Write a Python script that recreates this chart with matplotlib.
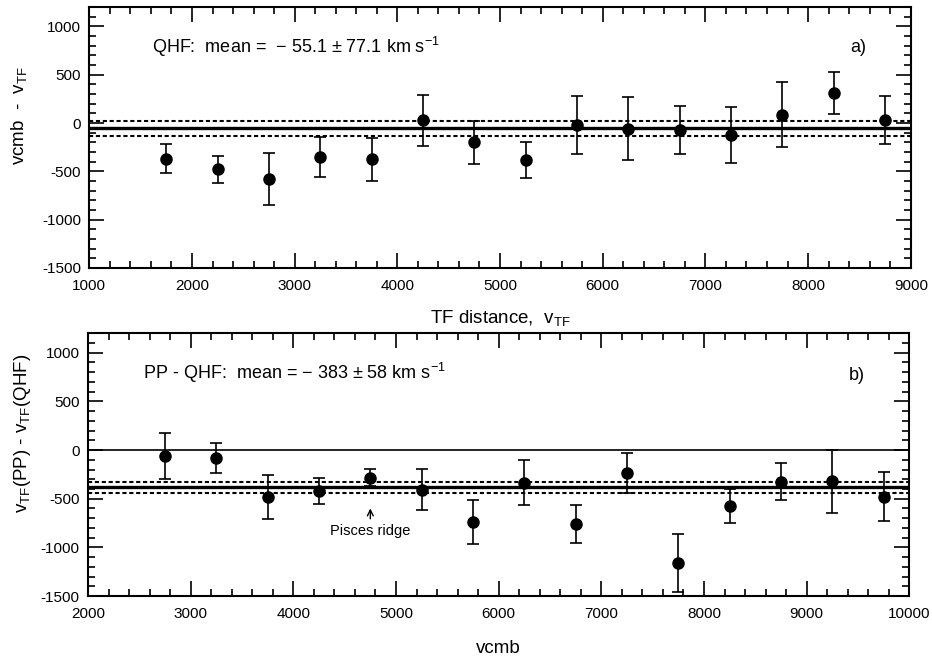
import matplotlib
matplotlib.use("Agg")
import matplotlib.pyplot as plt
from matplotlib.ticker import MultipleLocator
import numpy as np

plt.rcParams['font.family'] = ['Liberation Sans', 'DejaVu Sans']
plt.rcParams['mathtext.fontset'] = 'custom'
plt.rcParams['mathtext.rm'] = 'Liberation Sans'
plt.rcParams['mathtext.it'] = 'Liberation Sans:italic'
plt.rcParams['mathtext.bf'] = 'Liberation Sans:bold'
plt.rcParams['axes.unicode_minus'] = False

# Panel a) : vcmb - v_TF vs TF distance (QHF)
a_x = [1750, 2250, 2750, 3250, 3750, 4250, 4750, 5250, 5750, 6250, 6750, 7250, 7750, 8250, 8750]
a_y = [-370, -478, -578, -351, -375, 26, -200, -385, -19, -60, -70, -125, 84, 310, 30]
a_err = [150, 140, 270, 210, 220, 262, 220, 185, 300, 325, 250, 287, 337, 215, 245]
a_mean = -55.1
a_sig = 77.1

# Panel b) : v_TF(PP) - v_TF(QHF) vs vcmb
b_x = [2750, 3250, 3750, 4250, 4750, 5250, 5750, 6250, 6750, 7250, 7750, 8250, 8750, 9250, 9750]
b_y = [-64, -78, -481, -423, -282, -409, -739, -337, -763, -238, -1162, -573, -324, -321, -478]
b_err = [235, 155, 223, 135, 85, 210, 228, 232, 197, 205, 297, 175, 190, 325, 255]
b_mean = -383
b_sig = 58

a_xlim = (1000, 9000)
b_xlim = (2000, 10000)
ylim = (-1500, 1200)
yticks = [-1500, -1000, -500, 0, 500, 1000]

fig = plt.figure(figsize=(9.32, 6.57), dpi=100)
ax1 = fig.add_axes([0.0958, 0.5921, 0.8814, 0.3972])
ax2 = fig.add_axes([0.0944, 0.0928, 0.8813, 0.3999])

def style(ax, xlim, xticks):
    ax.set_xlim(*xlim)
    ax.set_ylim(*ylim)
    ax.set_xticks(xticks)
    ax.set_xticklabels([str(t) for t in xticks])
    ax.set_yticks(yticks)
    ax.set_yticklabels([str(t) for t in yticks])
    ax.xaxis.set_minor_locator(MultipleLocator(200))
    ax.yaxis.set_minor_locator(MultipleLocator(100))
    ax.tick_params(which='both', direction='in', top=True, right=True, width=1.2, labelsize=11)
    ax.tick_params(which='major', length=11)
    ax.tick_params(which='minor', length=5)
    ax.tick_params(axis='x', pad=8)
    ax.tick_params(axis='y', pad=6)
    for s in ax.spines.values():
        s.set_linewidth(1.5)

eb_kw = dict(fmt='o', color='black', ms=8, elinewidth=1.2, capsize=4, capthick=1.2, zorder=5)
dot_ls = (0, (2.0, 1.3))

# Panel a
style(ax1, a_xlim, list(range(1000, 9001, 1000)))
ax1.axhline(a_mean, color='black', lw=2.4, zorder=3)
ax1.axhline(a_mean + a_sig, color='black', lw=1.5, ls=dot_ls, zorder=3)
ax1.axhline(a_mean - a_sig, color='black', lw=1.5, ls=dot_ls, zorder=3)
ax1.errorbar(a_x, a_y, yerr=a_err, **eb_kw)
ax1.text(0.076, 0.848, 'QHF:  mean =  \u2212 55.1 \u00b1 77.1 km s$^{\\mathregular{-1}}$',
         transform=ax1.transAxes, fontsize=13, ha='left', va='center')
ax1.text(0.926, 0.846, 'a)', transform=ax1.transAxes, fontsize=13, ha='left', va='center')
ax1.set_xlabel('TF distance,  v$_{\\mathregular{TF}}$', fontsize=13.5, va='top')
ax1.xaxis.set_label_coords(0.5, -0.155)
ax1.set_ylabel('vcmb  -  v$_{\\mathregular{TF}}$', fontsize=13.5)
ax1.yaxis.set_label_coords(-0.0736, 0.586)

# Panel b
style(ax2, b_xlim, list(range(2000, 10001, 1000)))
ax2.axhline(0, color='black', lw=1.2, zorder=3)
ax2.axhline(b_mean, color='black', lw=2.4, zorder=3)
ax2.axhline(b_mean + b_sig, color='black', lw=1.5, ls=dot_ls, zorder=3)
ax2.axhline(b_mean - b_sig, color='black', lw=1.5, ls=dot_ls, zorder=3)
ax2.errorbar(b_x, b_y, yerr=b_err, **eb_kw)
ax2.text(0.0673, 0.848, 'PP - QHF:  mean = \u2212 383 \u00b1 58 km s$^{\\mathregular{-1}}$',
         transform=ax2.transAxes, fontsize=13, ha='left', va='center')
ax2.text(0.926, 0.841, 'b)', transform=ax2.transAxes, fontsize=13, ha='left', va='center')
ax2.annotate('Pisces ridge', xy=(4750, -600), xytext=(4750, -835), ha='center', va='center',
             fontsize=10.5, arrowprops=dict(arrowstyle='->', color='black', lw=1.0,
                                            shrinkA=2, shrinkB=0))
ax2.set_xlabel('vcmb', fontsize=13.5, va='top')
ax2.xaxis.set_label_coords(0.5, -0.168)
ax2.set_ylabel('v$_{\\mathregular{TF}}$(PP) - v$_{\\mathregular{TF}}$(QHF)', fontsize=13.5)
ax2.yaxis.set_label_coords(-0.067, 0.62)

fig.savefig('out.png', dpi=100)
